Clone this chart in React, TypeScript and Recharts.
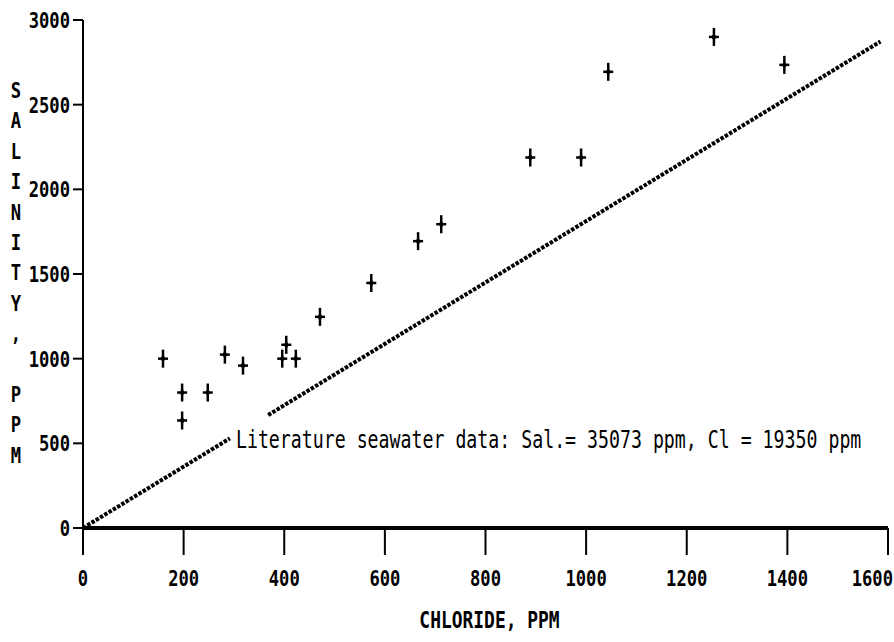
import { ReferenceDot, Scatter, ScatterChart, XAxis, YAxis } from 'recharts'

// Sample measurements: chloride (ppm) vs salinity (ppm)
const chloride = [159, 197, 197, 248, 282, 318, 396, 404, 423, 471, 573, 666, 712, 889, 990, 1044, 1254, 1394]
const salinity = [1000, 800, 635, 800, 1024, 959, 1000, 1082, 1000, 1247, 1447, 1694, 1794, 2188, 2188, 2694, 2900, 2735]

const xTicks = [0, 200, 400, 600, 800, 1000, 1200, 1400, 1600]
const yTicks = [0, 500, 1000, 1500, 2000, 2500, 3000]

// Literature seawater composition, used for the reference line slope
const SEAWATER_SAL = 35073
const SEAWATER_CL = 19350
const lowerSegmentCl = [0, 292]
const upperSegmentCl = [368, 1585]

const samples = chloride.map((x, i) => ({ x, y: salinity[i] }))
const ratio = SEAWATER_SAL / SEAWATER_CL
const toLine = (cls: number[]) => cls.map((x) => ({ x, y: x * ratio }))

const FONT = '"DejaVu Sans Mono", "Liberation Mono", monospace'

function PlusMark({ cx, cy }: any) {
  return (
    <g stroke="#000" strokeWidth={2.5}>
      <line x1={cx} x2={cx} y1={cy - 9} y2={cy + 9} />
      <line x1={cx - 5} x2={cx + 5} y1={cy} y2={cy} />
      <ellipse cx={cx} cy={cy} rx={1.5} ry={2.5} fill="#000" strokeWidth={1} />
    </g>
  )
}

function XTick({ x, y, payload }: any) {
  // the last label sits at the right edge, so keep it inside the frame
  const last = payload.value === xTicks[xTicks.length - 1]
  return (
    <text
      transform={`translate(${last ? x + 5 : x},${y}) scale(0.78,1)`}
      textAnchor={last ? 'end' : 'middle'}
      dy="0.71em"
      fontFamily={FONT}
      fontWeight="bold"
      fontSize={22}
      fill="#000"
    >
      {payload.value}
    </text>
  )
}

function YTick({ x, y, payload }: any) {
  return (
    <text
      transform={`translate(${x},${y}) scale(0.78,1)`}
      textAnchor="end"
      dy="0.36em"
      fontFamily={FONT}
      fontWeight="bold"
      fontSize={22}
      fill="#000"
    >
      {payload.value}
    </text>
  )
}

function StackedTitle({ viewBox }: any) {
  const letters = 'SALINITY, PPM'.split('')
  return (
    <g>
      {letters.map((ch, i) => (
        <text
          key={i}
          transform={`translate(16,${viewBox.y + 70 + i * 30.4}) scale(0.78,1)`}
          textAnchor="middle"
          dy="0.36em"
          fontFamily={FONT}
          fontWeight="bold"
          fontSize={22}
          fill="#000"
        >
          {ch}
        </text>
      ))}
    </g>
  )
}

function XTitle({ viewBox }: any) {
  return (
    <text
      transform={`translate(${viewBox.x + viewBox.width / 2 + 4},${620}) scale(0.78,1)`}
      textAnchor="middle"
      dy="0.36em"
      fontFamily={FONT}
      fontWeight="bold"
      fontSize={23}
      fill="#000"
    >
      CHLORIDE, PPM
    </text>
  )
}

function SeawaterNote({ viewBox }: any) {
  return (
    <text
      transform={`translate(${viewBox.x},${viewBox.y}) scale(0.76,1)`}
      textAnchor="start"
      fontFamily={FONT}
      fontSize={24}
      fill="#000"
    >
      {`Literature seawater data: Sal.= ${SEAWATER_SAL} ppm, Cl = ${SEAWATER_CL} ppm`}
    </text>
  )
}

const dotted = { stroke: '#000', strokeWidth: 4, strokeDasharray: '3.5 1.5' }

export default function App() {
  return (
    <div style={{ position: 'absolute', left: 0, top: 0, width: 894, height: 642, background: '#fff' }}>
      <ScatterChart width={894} height={642} margin={{ top: 20, right: 6, bottom: 54, left: 0 }}>
        <XAxis
          type="number"
          dataKey="x"
          domain={[0, 1600]}
          ticks={xTicks}
          interval={0}
          axisLine={{ stroke: '#000', strokeWidth: 4 }}
          tickLine={{ stroke: '#000', strokeWidth: 2 }}
          tickSize={27}
          tickMargin={15}
          tick={<XTick />}
          height={60}
          label={{ content: <XTitle /> }}
        />
        <YAxis
          type="number"
          dataKey="y"
          domain={[0, 3000]}
          ticks={yTicks}
          interval={0}
          width={83}
          axisLine={{ stroke: '#000', strokeWidth: 2 }}
          tickLine={{ stroke: '#000', strokeWidth: 2 }}
          tickSize={10}
          tickMargin={3}
          tick={<YTick />}
          label={{ content: <StackedTitle /> }}
        />
        <Scatter
          data={toLine(lowerSegmentCl)}
          line={dotted}
          shape={() => <g />}
          isAnimationActive={false}
        />
        <Scatter
          data={toLine(upperSegmentCl)}
          line={dotted}
          shape={() => <g />}
          isAnimationActive={false}
        />
        <Scatter data={samples} shape={<PlusMark />} isAnimationActive={false} />
        <ReferenceDot
          x={304}
          y={470}
          r={0}
          fill="none"
          stroke="none"
          label={{ content: <SeawaterNote /> }}
        />
      </ScatterChart>
    </div>
  )
}
